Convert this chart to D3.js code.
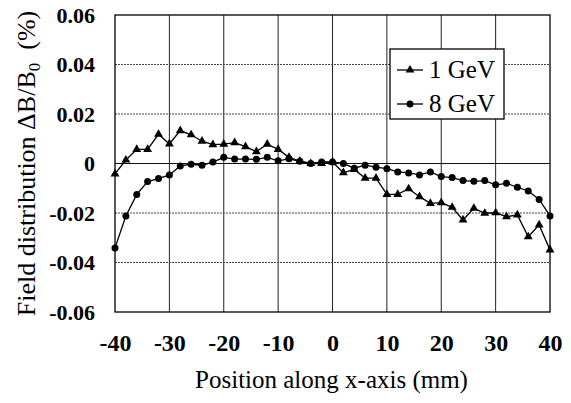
<!DOCTYPE html>
<html>
<head>
<meta charset="utf-8">
<script src="https://cdn.jsdelivr.net/npm/d3@7"></script>
<style>
  body { margin: 0; background: #fff; }
  svg { display: block; }
  text { font-family: 'Liberation Serif', 'DejaVu Serif', serif; }
</style>
</head>
<body>
<svg id="canvas"></svg>
<script>
let positions = [-40, -38, -36, -34, -32, -30, -28, -26, -24, -22, -20, -18, -16, -14, -12, -10, -8, -6, -4, -2,
  0, 2, 4, 6, 8, 10, 12, 14, 16, 18, 20, 22, 24, 26, 28, 30, 32, 34, 36, 38, 40]

let gev1 = [-0.0042, 0.0014, 0.0057, 0.0057, 0.0118, 0.0079, 0.0133, 0.0116, 0.0090, 0.0076, 0.0078, 0.0084, 0.0068, 0.0048,
  0.0078, 0.0057, 0.0025, 0.0010, 0.0000, 0.0000, 0.0006, -0.0037, -0.0024, -0.0059, -0.0059, -0.0125, -0.0125, -0.0102,
  -0.0134, -0.0161, -0.0158, -0.0177, -0.0228, -0.0181, -0.0201, -0.0199, -0.0215, -0.0208, -0.0296, -0.0248, -0.0349]

let gev8 = [-0.0341, -0.0212, -0.0125, -0.0073, -0.0061, -0.0046, -0.0010, -0.0003, -0.0007, 0.0006, 0.0025, 0.0018, 0.0018, 0.0017,
  0.0025, 0.0011, 0.0019, 0.0009, 0.0000, 0.0006, 0.0006, 0.0000, -0.0019, -0.0007, -0.0015, -0.0021, -0.0034, -0.0038,
  -0.0046, -0.0034, -0.0053, -0.0057, -0.0069, -0.0072, -0.0069, -0.0086, -0.0080, -0.0096, -0.0111, -0.0145, -0.0212]

let xTicks = [-40, -30, -20, -10, 0, 10, 20, 30, 40]
let xTickLabels = ['-40', '-30', '-20', '-10', '0', '10', '20', '30', '40']
let yTicks = [-0.06, -0.04, -0.02, 0, 0.02, 0.04, 0.06]
let yTickLabels = ['-0.06', '-0.04', '-0.02', '0', '0.02', '0.04', '0.06']
let seriesNames = ['1 GeV', '8 GeV']

let w = 571
let h = 403
let plotLeft = 115, plotRight = 550, plotTop = 15, plotBottom = 312
let serif = "'Liberation Serif', 'DejaVu Serif', serif"

let canvas = d3.select('#canvas')
canvas.attr('width', w).attr('height', h)

let xScale = d3.scaleLinear().domain([-40, 40]).range([plotLeft, plotRight])
let yScale = d3.scaleLinear().domain([-0.06, 0.06]).range([plotBottom, plotTop])

// grid
canvas.append('g')
  .selectAll('line')
  .data(xTicks.slice(1, -1))
  .enter().append('line')
  .attr('x1', d => xScale(d)).attr('x2', d => xScale(d))
  .attr('y1', plotTop).attr('y2', plotBottom)
  .attr('stroke', '#222').attr('stroke-width', 1)

canvas.append('g')
  .selectAll('line')
  .data(yTicks.slice(1, -1))
  .enter().append('line')
  .attr('x1', plotLeft).attr('x2', plotRight)
  .attr('y1', d => yScale(d)).attr('y2', d => yScale(d))
  .attr('stroke', d => d === 0 ? '#111' : '#444')
  .attr('stroke-width', 1)
  .attr('stroke-dasharray', d => d === 0 ? null : '2,1')

// axes (labels only)
let xAxis = d3.axisBottom(xScale).tickValues(xTicks).tickSize(0).tickPadding(22)
  .tickFormat((d, i) => xTickLabels[i])
let gx = canvas.append('g')
  .attr('transform', 'translate(0,' + plotBottom + ')')
  .call(xAxis)
gx.attr('font-family', null)
gx.select('.domain').remove()
gx.selectAll('text')
  .style('font-family', serif)
  .style('font-weight', 'bold')
  .style('font-size', '24px')
  .attr('fill', '#000')

let yAxis = d3.axisLeft(yScale).tickValues(yTicks).tickSize(0).tickPadding(20)
  .tickFormat((d, i) => yTickLabels[i])
let gy = canvas.append('g')
  .attr('transform', 'translate(' + plotLeft + ',0)')
  .call(yAxis)
gy.attr('font-family', null)
gy.select('.domain').remove()
gy.selectAll('text')
  .style('font-family', serif)
  .style('font-weight', 'bold')
  .style('font-size', '22px')
  .attr('fill', '#000')

// lines
let line = d3.line()
  .x((d, i) => xScale(positions[i]))
  .y(d => yScale(d))

canvas.append('path').datum(gev1)
  .attr('d', line).attr('fill', 'none').attr('stroke', '#000').attr('stroke-width', 1.3)
canvas.append('path').datum(gev8)
  .attr('d', line).attr('fill', 'none').attr('stroke', '#000').attr('stroke-width', 1.3)

let tri = d3.symbol().type(d3.symbolTriangle).size(34)
canvas.append('g').selectAll('path')
  .data(gev1)
  .enter().append('path')
  .attr('d', tri)
  .attr('transform', (d, i) => 'translate(' + xScale(positions[i]) + ',' + yScale(d) + ')')
  .attr('fill', '#000')

canvas.append('g').selectAll('circle')
  .data(gev8)
  .enter().append('circle')
  .attr('cx', (d, i) => xScale(positions[i]))
  .attr('cy', d => yScale(d))
  .attr('r', 3.5)
  .attr('fill', '#000')

// plot border
canvas.append('rect')
  .attr('x', plotLeft).attr('y', plotTop)
  .attr('width', plotRight - plotLeft).attr('height', plotBottom - plotTop)
  .attr('fill', 'none').attr('stroke', '#000').attr('stroke-width', 1.3)

// legend
let legend = canvas.append('g')
legend.append('rect')
  .attr('x', 390).attr('y', 49).attr('width', 114).attr('height', 70)
  .attr('fill', '#fff').attr('stroke', '#000').attr('stroke-width', 1.3)

seriesNames.forEach((name, i) => {
  let cy = 70 + i * 34
  legend.append('line')
    .attr('x1', 397).attr('x2', 423).attr('y1', cy).attr('y2', cy)
    .attr('stroke', '#000').attr('stroke-width', 1.3)
  if (i === 0) {
    legend.append('path').attr('d', tri).attr('transform', 'translate(410,' + cy + ')').attr('fill', '#000')
  } else {
    legend.append('circle').attr('cx', 410).attr('cy', cy).attr('r', 3.5).attr('fill', '#000')
  }
  legend.append('text')
    .attr('x', 429).attr('y', cy + 8)
    .style('font-family', serif)
    .style('font-size', '25px')
    .text(name)
})

// axis titles
canvas.append('text')
  .attr('x', (plotLeft + plotRight) / 2 - 1).attr('y', 388)
  .attr('text-anchor', 'middle')
  .style('font-family', serif)
  .style('font-size', '25px')
  .text('Position along x-axis (mm)')

let yt = canvas.append('text')
  .attr('transform', 'translate(35,' + ((plotTop + plotBottom) / 2) + ') rotate(-90)')
  .attr('text-anchor', 'middle')
  .style('font-family', serif)
  .style('font-size', '26px')
yt.append('tspan').text('Field distribution ΔB/B')
yt.append('tspan').style('font-size', '17px').attr('dy', 5).text('0')
yt.append('tspan').attr('dy', -5).text('\u00a0 (%)')
</script>
</body>
</html>
